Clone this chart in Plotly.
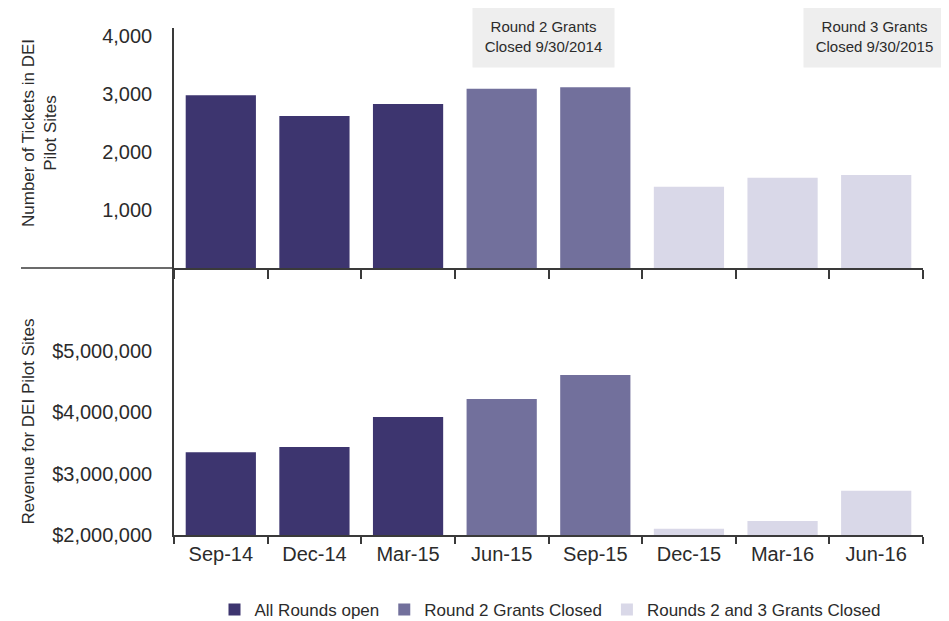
import plotly.graph_objects as go

months = ["Sep-14", "Dec-14", "Mar-15", "Jun-15", "Sep-15", "Dec-15", "Mar-16", "Jun-16"]
tickets = [2980, 2620, 2830, 3090, 3120, 1400, 1555, 1605]
revenue = [3350000, 3435000, 3925000, 4220000, 4610000, 2100000, 2230000, 2720000]
phase = ["All Rounds open"] * 3 + ["Round 2 Grants Closed"] * 2 + ["Rounds 2 and 3 Grants Closed"] * 3
phase_names = ["All Rounds open", "Round 2 Grants Closed", "Rounds 2 and 3 Grants Closed"]
phase_colors = ["#3d356f", "#72709c", "#d9d8e8"]
ticket_ticks = [1000, 2000, 3000, 4000]
revenue_ticks = [2000000, 3000000, 4000000, 5000000]

FONT = "Liberation Sans, Arial, sans-serif"
TXT = "#2b2b2b"
LINE = "#3a3a3a"

# the page body has an 8px margin, so the figure is drawn 8px smaller and offset
OFF = 8
PL, PT, PW, PH = 174, 28, 749, 507   # plot area in window pixels


def px(x):
    return (x - PL) / PW


def py(y):
    return (PT + PH - y) / PH


fig = go.Figure()
for name, col in zip(phase_names, phase_colors):
    xs = [m for m, p in zip(months, phase) if p == name]
    t = [v for v, p in zip(tickets, phase) if p == name]
    r = [v for v, p in zip(revenue, phase) if p == name]
    fig.add_trace(go.Bar(x=xs, y=t, name=name, marker=dict(color=col, line=dict(width=0)),
                         xaxis="x", yaxis="y", showlegend=False, legendgroup=name))
    fig.add_trace(go.Bar(x=xs, y=r, name=name, marker=dict(color=col, line=dict(width=0)),
                         xaxis="x2", yaxis="y2", showlegend=True, legendgroup=name))

split = py(268)

axis_common = dict(type="category", categoryorder="array", categoryarray=months,
                   showline=True, linecolor=LINE, linewidth=1.5, ticks="outside",
                   tickson="boundaries", tickcolor=LINE, tickwidth=1.5, showgrid=False,
                   zeroline=False, domain=[0, 1], automargin=False)

fig.update_layout(
    width=949 - OFF, height=621 - OFF,
    margin=dict(l=PL - OFF, r=949 - PL - PW, t=PT - OFF, b=621 - PT - PH, autoexpand=False),
    paper_bgcolor="white", plot_bgcolor="rgba(0,0,0,0)",
    barmode="overlay", bargap=0.25,
    font=dict(family=FONT, color=TXT, size=17),
    xaxis=dict(**axis_common, anchor="y", ticklen=9, showticklabels=False),
    yaxis=dict(domain=[split, 1], range=[0, 4140], tickvals=ticket_ticks, tickformat=",",
               showline=True, linecolor=LINE, linewidth=1.5, ticks="", showgrid=False,
               zeroline=False, tickfont=dict(size=20, color=TXT), ticklabelstandoff=16,
               anchor="x", automargin=False),
    xaxis2=dict(**axis_common, anchor="y2", ticklen=7, tickfont=dict(size=20, color=TXT)),
    yaxis2=dict(domain=[0, split], range=[2000000, 2000000 + 267 / 61.3 * 1e6],
                tickvals=revenue_ticks, tickformat="$,.0f",
                showline=True, linecolor=LINE, linewidth=1.5, ticks="", showgrid=False,
                zeroline=False, tickfont=dict(size=20, color=TXT), ticklabelstandoff=16,
                anchor="x2", automargin=False),
    legend=dict(orientation="h", x=px(550), xanchor="center", y=py(610), yanchor="middle",
                font=dict(size=17, color=TXT), traceorder="normal", itemclick=False),
    showlegend=True,
)

fig.add_shape(type="line", xref="paper", yref="paper", x0=px(21), x1=0,
              y0=split, y1=split, line=dict(color=LINE, width=1.5))

fig.add_annotation(text="Number of Tickets in DEI<br>Pilot Sites", xref="paper", yref="paper",
                   x=px(40), y=py(133), xanchor="center", yanchor="middle",
                   textangle=-90, showarrow=False, font=dict(size=17, color=TXT))
fig.add_annotation(text="Revenue for DEI Pilot Sites", xref="paper", yref="paper",
                   x=px(27.5), y=py(422), xanchor="center", yanchor="middle",
                   textangle=-90, showarrow=False, font=dict(size=17, color=TXT))

for label, cx in [("Round 2 Grants<br>Closed 9/30/2014", 543.5), ("Round 3 Grants<br>Closed 9/30/2015", 874.5)]:
    fig.add_annotation(text=label, xref="paper", yref="paper",
                       x=px(cx), y=py(36.5), xanchor="center", yanchor="middle",
                       showarrow=False, bgcolor="#eeeeee", width=141, height=61, borderpad=0,
                       font=dict(size=15, color=TXT))

fig.write_html("out.html")
